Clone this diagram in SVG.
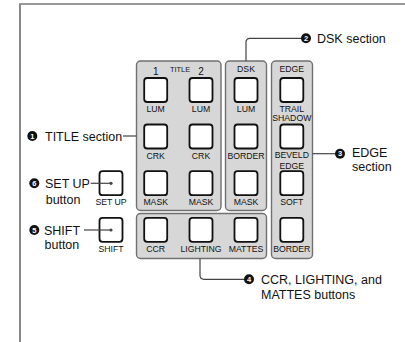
<svg xmlns="http://www.w3.org/2000/svg" width="405" height="342" viewBox="0 0 405 342">
<style>
.panel{fill:#d7d7d7;stroke:#707070;stroke-width:1.4}
.btn{fill:#fff;stroke:#111;stroke-width:1.8}
.lbl{font-family:"Liberation Sans",Arial,sans-serif;font-size:8.7px;fill:#111;text-anchor:middle}
.call{font-family:"Liberation Sans",Arial,sans-serif;font-size:12.5px;fill:#111}
.num{font-family:"Liberation Sans",Arial,sans-serif;font-size:7.5px;font-weight:bold;fill:#fff;text-anchor:middle}
.dot{fill:#111}
.ln{fill:none;stroke:#444;stroke-width:1.2}
</style>
<rect width="405" height="342" fill="#fff"/>
<line x1="19" y1="4" x2="405" y2="4" stroke="#333" stroke-width="1"/>
<line x1="20" y1="4" x2="20" y2="342" stroke="#888" stroke-width="2"/>

<g id="title-section">
<rect class="panel" x="136.5" y="61" width="84.5" height="149.5" rx="4"/>
<text class="lbl" x="155.7" y="75.3" style="font-size:10px">1</text>
<text class="lbl" x="180" y="71.8" style="font-size:7.4px">TITLE</text>
<text class="lbl" x="201" y="75.3" style="font-size:10px">2</text>
<rect class="btn" x="144.2" y="78" width="23" height="24" rx="3"/>
<rect class="btn" x="189.5" y="78" width="23" height="24" rx="3"/>
<text class="lbl" x="155.7" y="112.2">LUM</text>
<text class="lbl" x="201" y="112.2">LUM</text>
<rect class="btn" x="144.2" y="124.5" width="23" height="24" rx="3"/>
<rect class="btn" x="189.5" y="124.5" width="23" height="24" rx="3"/>
<text class="lbl" x="155.7" y="158.5">CRK</text>
<text class="lbl" x="201" y="158.5">CRK</text>
<rect class="btn" x="144.2" y="171.2" width="23" height="24" rx="3"/>
<rect class="btn" x="189.5" y="171.2" width="23" height="24" rx="3"/>
<text class="lbl" x="155.7" y="205.2">MASK</text>
<text class="lbl" x="201" y="205.2">MASK</text>
</g>

<g id="dsk-section">
<rect class="panel" x="225.5" y="61" width="41" height="149.5" rx="4"/>
<text class="lbl" x="246" y="72.4">DSK</text>
<rect class="btn" x="234.5" y="78" width="23" height="24" rx="3"/>
<text class="lbl" x="246" y="112.2">LUM</text>
<rect class="btn" x="234.5" y="124.5" width="23" height="24" rx="3"/>
<text class="lbl" x="246" y="158.5">BORDER</text>
<rect class="btn" x="234.5" y="171.2" width="23" height="24" rx="3"/>
<text class="lbl" x="246" y="205.2">MASK</text>
</g>

<g id="edge-section">
<rect class="panel" x="271.5" y="61" width="41" height="197.5" rx="4"/>
<text class="lbl" x="291.8" y="72.4">EDGE</text>
<rect class="btn" x="280.3" y="78" width="23" height="24" rx="3"/>
<text class="lbl" x="291.8" y="112.4">TRAIL</text>
<text class="lbl" x="291.8" y="121.4">SHADOW</text>
<rect class="btn" x="280.3" y="124.5" width="23" height="24" rx="3"/>
<text class="lbl" x="291.8" y="158.4">BEVELD</text>
<text class="lbl" x="291.8" y="168.8">EDGE</text>
<rect class="btn" x="280.3" y="171.2" width="23" height="24" rx="3"/>
<text class="lbl" x="291.8" y="205.2">SOFT</text>
<rect class="btn" x="280.3" y="217.8" width="23" height="24" rx="3"/>
<text class="lbl" x="291.8" y="252">BORDER</text>
</g>

<g id="ccr-section">
<rect class="panel" x="136.5" y="213.5" width="130" height="45" rx="4"/>
<rect class="btn" x="144.2" y="217.8" width="23" height="24" rx="3"/>
<rect class="btn" x="189.5" y="217.8" width="23" height="24" rx="3"/>
<rect class="btn" x="234.5" y="217.8" width="23" height="24" rx="3"/>
<text class="lbl" x="155.7" y="252">CCR</text>
<text class="lbl" x="201" y="252">LIGHTING</text>
<text class="lbl" x="246" y="252">MATTES</text>
</g>

<g id="setup-button">
<rect class="btn" x="99.5" y="171.2" width="23" height="24" rx="3"/>
<text class="lbl" x="111" y="205.2">SET UP</text>
</g>

<g id="shift-button">
<rect class="btn" x="99.5" y="217.8" width="23" height="24" rx="3"/>
<text class="lbl" x="111" y="252">SHIFT</text>
</g>

<g id="connectors">
<path class="ln" d="M123 136H136.5"/>
<path class="ln" d="M246 61V42.3Q246 38.3 250 38.3H306"/>
<path class="ln" d="M312.5 153.7H340"/>
<path class="ln" d="M200 258.7V275.3Q200 279.3 204 279.3H249"/>
<path class="ln" d="M90.7 183.3H111"/>
<path class="ln" d="M84 230H111"/>
<circle cx="111" cy="183.3" r="1.6" fill="#444"/>
<circle cx="111" cy="230" r="1.6" fill="#444"/>
</g>

<g id="callout-1">
<circle class="dot" cx="32.3" cy="136" r="5"/>
<text class="num" x="32.3" y="138.7">1</text>
<text class="call" x="45" y="140.5">TITLE section</text>
</g>
<g id="callout-2">
<circle class="dot" cx="306" cy="38.3" r="5"/>
<text class="num" x="306" y="41">2</text>
<text class="call" x="317" y="42.8">DSK section</text>
</g>
<g id="callout-3">
<circle class="dot" cx="340" cy="153.7" r="5"/>
<text class="num" x="340" y="156.4">3</text>
<text class="call" x="352" y="157.2">EDGE</text>
<text class="call" x="352" y="171">section</text>
</g>
<g id="callout-4">
<circle class="dot" cx="249" cy="279.3" r="5"/>
<text class="num" x="249" y="282">4</text>
<text class="call" x="261" y="283.8">CCR, LIGHTING, and</text>
<text class="call" x="261" y="298.8">MATTES buttons</text>
</g>
<g id="callout-6">
<circle class="dot" cx="34.3" cy="183.3" r="5"/>
<text class="num" x="34.3" y="186">6</text>
<text class="call" x="45" y="187.8">SET UP</text>
<text class="call" x="45.7" y="203.5">button</text>
</g>
<g id="callout-5">
<circle class="dot" cx="34.3" cy="230" r="5"/>
<text class="num" x="34.3" y="232.7">5</text>
<text class="call" x="44" y="234.5">SHIFT</text>
<text class="call" x="44.5" y="249">button</text>
</g>
</svg>
